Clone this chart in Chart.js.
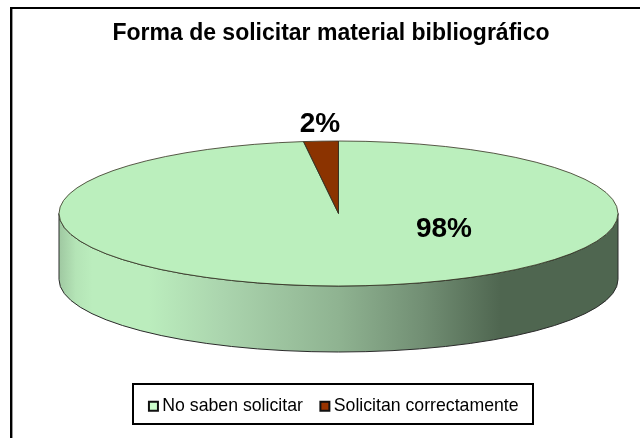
<!DOCTYPE html>
<html><head><meta charset="utf-8">
<style>html,body{margin:0;padding:0;background:#fff;overflow:hidden}#w{width:640px;height:438px;position:relative}</style>
<script src="https://cdn.jsdelivr.net/npm/chart.js@4"></script>
</head><body><div id="w"><canvas id="c" width="640" height="438"></canvas></div>
<script>
const categories = ["No saben solicitar", "Solicitan correctamente"];
const values = [98, 2];
const sliceColors = ["#bbefbd", "#8b3300"];
const legendColors = ["#ccffcc", "#993300"];
const titleText = "Forma de solicitar material bibliográfico";

const FONT = '"Liberation Sans", Arial, sans-serif';
const ELLIPSE = {cx: 338.5, cy: 213.5, rx: 279.5, ry: 72.5, depth: 66};
const LABEL_POS = [{x: 444, y: 229}, {x: 320, y: 124}];
const LEGEND_BOX = {x: 133, y: 384, w: 400, h: 40};

function ellipseTransform(ctx, arc) {
  const r = arc.outerRadius;
  ctx.translate(ELLIPSE.cx, ELLIPSE.cy);
  ctx.scale(ELLIPSE.rx / r, ELLIPSE.ry / r);
  ctx.translate(-arc.x, -arc.y);
}

const piePlugin = {
  id: 'pie3d',
  afterLayout(chart) {
    chart.titleBlock.left -= 5;
    chart.titleBlock.right -= 5;
  },
  beforeDraw(chart) {
    const ctx = chart.ctx;
    ctx.save();
    ctx.fillStyle = '#fff';
    ctx.fillRect(0, 0, chart.width, chart.height);
    ctx.fillStyle = '#000';
    ctx.fillRect(11, 7, chart.width - 11, 2);
    ctx.fillRect(10, 7, 2, chart.height - 7);
    ctx.fillStyle = '#9a9a9a';
    ctx.fillRect(12, 9, 1, chart.height - 9);
    ctx.restore();
  },
  beforeDatasetsDraw(chart) {
    const ctx = chart.ctx, E = ELLIPSE;
    const g = ctx.createLinearGradient(E.cx - E.rx, 0, E.cx + E.rx, 0);
    [[0, '#9fc8a1'], [0.03, '#b4e4b6'], [0.06, '#bbedbd'], [0.16, '#bbedbd'], [0.29, '#abd5ae'],
     [0.5, '#8fb391'], [0.65, '#728f74'], [0.79, '#4f6650'], [1, '#4f6650']]
      .forEach(s => g.addColorStop(s[0], s[1]));
    ctx.save();
    ctx.beginPath();
    ctx.ellipse(E.cx, E.cy, E.rx, E.ry, 0, 0, Math.PI);
    ctx.lineTo(E.cx - E.rx, E.cy + E.depth);
    ctx.ellipse(E.cx, E.cy + E.depth, E.rx, E.ry, 0, Math.PI, 0, true);
    ctx.closePath();
    ctx.fillStyle = g;
    ctx.fill();
    ctx.strokeStyle = '#2a2a2a';
    ctx.lineWidth = 1;
    ctx.stroke();
    ctx.restore();
    const arc = chart.getDatasetMeta(0).data[0];
    ctx.save();
    ellipseTransform(ctx, arc);
  },
  afterDatasetsDraw(chart) {
    const ctx = chart.ctx;
    ctx.restore();
    const arcs = chart.getDatasetMeta(0).data;
    arcs.forEach((arc) => {
      ctx.save();
      ctx.save();
      ellipseTransform(ctx, arc);
      ctx.beginPath();
      ctx.moveTo(arc.x, arc.y);
      ctx.arc(arc.x, arc.y, arc.outerRadius, arc.startAngle, arc.endAngle);
      ctx.closePath();
      ctx.restore();
      ctx.strokeStyle = '#33301f';
      ctx.lineWidth = 0.8;
      ctx.stroke();
      ctx.restore();
    });
    ctx.save();
    ctx.fillStyle = '#000';
    ctx.font = 'bold 28px ' + FONT;
    ctx.textAlign = 'center';
    ctx.textBaseline = 'middle';
    values.forEach((v, i) => ctx.fillText(v + '%', LABEL_POS[i].x, LABEL_POS[i].y));
    ctx.restore();
  },
  afterDraw(chart) {
    const ctx = chart.ctx, B = LEGEND_BOX;
    ctx.save();
    ctx.strokeStyle = '#000';
    ctx.lineWidth = 2;
    ctx.strokeRect(B.x, B.y, B.w, B.h);
    ctx.restore();
  }
};

new Chart(document.getElementById('c'), {
  type: 'pie',
  data: {labels: categories, datasets: [{data: values, backgroundColor: sliceColors, borderWidth: 0}]},
  plugins: [piePlugin],
  options: {
    responsive: false,
    animation: false,
    layout: {padding: {left: 32, right: 0, top: 20, bottom: 13}},
    plugins: {
      tooltip: {enabled: false},
      title: {display: true, text: titleText, color: '#000', font: {family: FONT, size: 23, weight: 'bold'}, padding: {top: 0, bottom: 8}},
      legend: {
        display: true, position: 'bottom',
        labels: {
          color: '#000', font: {family: FONT, size: 17.7}, boxWidth: 0.01, boxHeight: 9, padding: 22,
          usePointStyle: true,
          generateLabels: () => categories.map((t, i) => ({text: t, fillStyle: legendColors[i], strokeStyle: '#111', lineWidth: 2, pointStyle: 'rect', index: i, hidden: false}))
        }
      }
    }
  }
});
</script></body></html>
